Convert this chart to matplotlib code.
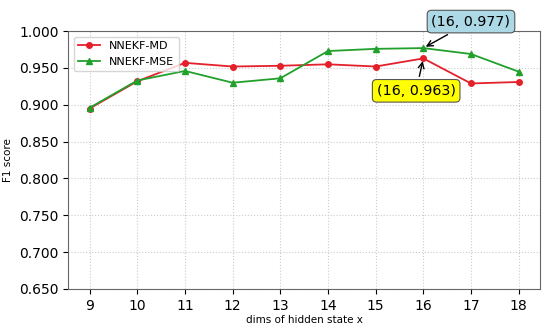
import matplotlib.pyplot as plt
import numpy as np

dims = [9, 10, 11, 12, 13, 14, 15, 16, 17, 18]
f1_md = [0.895, 0.932, 0.957, 0.952, 0.953, 0.955, 0.952, 0.963, 0.929, 0.931]
f1_mse = [0.896, 0.933, 0.946, 0.930, 0.936, 0.973, 0.976, 0.977, 0.969, 0.945]
y_ticks = [0.650, 0.700, 0.750, 0.800, 0.850, 0.900, 0.950, 1.000]

fig, ax = plt.subplots(figsize=(5.5, 3.28), dpi=100)
ax.plot(dims, f1_md, color='#e4202a', marker='o', markersize=4, linewidth=1.3, label='NNEKF-MD')
ax.plot(dims, f1_mse, color='#22a02c', marker='^', markersize=4, linewidth=1.3, label='NNEKF-MSE')

ax.set_xticks(dims)
ax.set_yticks(y_ticks)
ax.set_yticklabels(['%.3f' % v for v in y_ticks])
ax.set_ylim(0.65, 1.0)
ax.tick_params(labelsize=10)
ax.set_xlabel('dims of hidden state x', fontsize=7.5, labelpad=2)
ax.set_ylabel('F1 score', fontsize=7.5)
ax.grid(True, linestyle=':', color='#cccccc', linewidth=0.8)
for s in ax.spines.values():
    s.set_color('#666666')

ax.annotate('(16, 0.977)', xy=(16, 0.977), xytext=(17.0, 1.013), fontsize=10.3,
            ha='center', va='center', annotation_clip=False,
            bbox=dict(boxstyle='round,pad=0.3', fc='lightblue', ec='#555555', lw=0.8),
            arrowprops=dict(arrowstyle='->', color='black', lw=1))
ax.annotate('(16, 0.963)', xy=(16, 0.963), xytext=(15.85, 0.919), fontsize=10.3,
            ha='center', va='center',
            bbox=dict(boxstyle='round,pad=0.3', fc='yellow', ec='#555555', lw=0.8),
            arrowprops=dict(arrowstyle='->', color='black', lw=1))

ax.legend(loc='upper left', fontsize=8)
plt.subplots_adjust(left=0.124, right=0.982, top=0.905, bottom=0.119)
plt.savefig('out.png')
